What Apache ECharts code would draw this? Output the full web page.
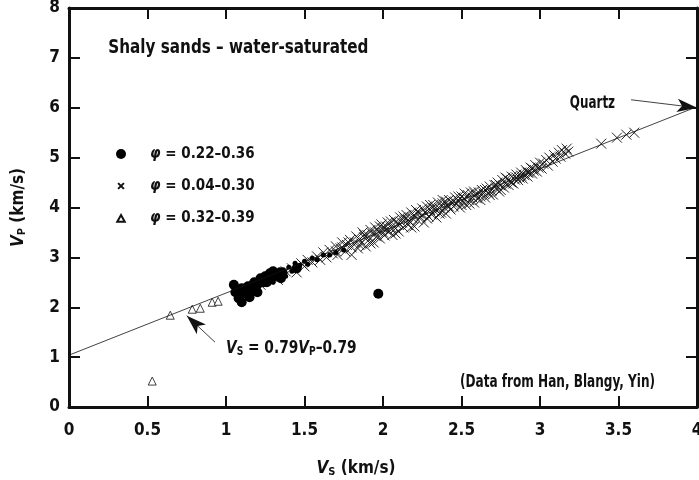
<!DOCTYPE html>
<html><head><meta charset="utf-8">
<script src="https://cdn.jsdelivr.net/npm/echarts@6/dist/echarts.min.js"></script>
<style>html,body{margin:0;padding:0;background:#fff}#c{width:699px;height:480px}</style>
</head><body><div id="c"></div>
<script>
// ---------- data ----------
const xTicks = [0, 4, 0.5];   // min, max, interval (Vs km/s)
const yTicks = [0, 8, 1];     // min, max, interval (Vp km/s)

const seriesNames = ['φ = 0.22–0.36', 'φ = 0.04–0.30', 'φ = 0.32–0.39'];

// φ = 0.22–0.36 (filled circles, large)
const circlesLarge = [
  [1.05,2.45],[1.06,2.30],[1.08,2.18],[1.10,2.10],[1.10,2.38],[1.12,2.28],[1.14,2.42],[1.15,2.20],
  [1.17,2.35],[1.18,2.50],[1.20,2.45],[1.20,2.30],[1.22,2.58],[1.23,2.52],[1.25,2.62],[1.26,2.50],
  [1.28,2.68],[1.28,2.56],[1.30,2.72],[1.31,2.62],[1.33,2.66],[1.35,2.58],[1.36,2.70],[1.45,2.78],
  [1.97,2.27]
];
// φ = 0.22–0.36 (filled circles, small)
const circlesSmall = [
  [1.12,2.36],[1.16,2.48],[1.24,2.45],[1.30,2.50],[1.34,2.75],[1.38,2.62],[1.40,2.80],[1.42,2.72],
  [1.44,2.88],[1.47,2.84],[1.50,2.92],[1.52,2.86],[1.55,2.98],[1.58,2.95],[1.62,3.05],[1.66,3.05],
  [1.70,3.10],[1.75,3.15]
];
// φ = 0.04–0.30 (crosses)
const crosses = [
  [1.22,2.45],[1.28,2.62],[1.33,2.55],[1.38,2.72],[1.42,2.78],[1.45,2.70],[1.48,2.88],[1.50,2.82],[1.52,2.95],[1.55,2.90],
  [1.58,3.02],[1.60,2.95],[1.62,3.10],[1.64,3.00],[1.66,3.15],[1.68,3.08],[1.70,3.22],[1.71,3.05],[1.73,3.18],[1.74,3.30],
  [1.76,3.12],[1.77,3.25],[1.79,3.35],[1.80,3.20],[1.80,3.05],
  [1.82,3.30],[1.83,3.42],[1.84,3.18],[1.85,3.36],[1.86,3.28],[1.87,3.50],[1.88,3.40],[1.89,3.22],[1.90,3.45],[1.91,3.35],
  [1.92,3.55],[1.93,3.48],[1.94,3.30],[1.95,3.60],[1.96,3.42],[1.97,3.52],[1.98,3.38],[1.99,3.66],[2.00,3.50],[2.00,3.58],
  [2.01,3.44],[2.02,3.62],[2.03,3.70],[2.04,3.52],[2.05,3.60],[2.06,3.45],[2.07,3.75],[2.08,3.58],[2.09,3.66],[2.10,3.52],
  [2.11,3.80],[2.12,3.70],[2.13,3.60],[2.14,3.76],[2.15,3.85],[2.16,3.65],[2.17,3.72],[2.18,3.90],[2.19,3.78],[2.20,3.62],[2.20,3.84],
  [2.21,3.95],[2.22,3.75],[2.23,3.88],[2.24,3.80],[2.25,3.98],[2.26,3.70],[2.27,3.90],[2.28,4.02],[2.29,3.82],[2.30,3.95],
  [2.31,3.86],[2.32,4.05],[2.33,3.92],[2.34,3.80],[2.35,4.10],[2.36,3.98],[2.37,3.90],[2.38,4.08],[2.39,4.00],[2.40,3.88],[2.40,4.12],
  [2.41,4.04],[2.42,4.15],[2.43,3.96],[2.44,4.10],[2.45,4.02],[2.46,4.20],[2.47,4.08],[2.48,4.14],[2.49,4.00],[2.50,4.22],
  [2.51,4.12],[2.52,4.18],[2.53,4.05],[2.54,4.25],[2.55,4.15],[2.56,4.30],[2.57,4.20],[2.58,4.10],[2.59,4.26],[2.60,4.18],
  [2.61,4.30],[2.62,4.22],[2.63,4.35],[2.64,4.28],[2.65,4.20],[2.66,4.38],[2.67,4.30],[2.68,4.42],[2.69,4.34],[2.70,4.26],
  [2.71,4.45],[2.72,4.38],[2.73,4.50],[2.74,4.32],[2.75,4.44],[2.76,4.55],[2.77,4.40],[2.78,4.48],[2.79,4.58],[2.80,4.45],
  [2.81,4.52],[2.82,4.62],[2.83,4.48],[2.84,4.56],[2.85,4.66],[2.86,4.55],[2.87,4.60],[2.88,4.70],[2.89,4.58],[2.90,4.65],
  [2.91,4.75],[2.92,4.62],[2.93,4.70],[2.94,4.80],[2.95,4.68],[2.96,4.74],[2.97,4.85],[2.98,4.72],[2.99,4.80],[3.00,4.90],
  [3.01,4.78],[3.02,4.88],[3.04,4.95],[3.05,4.84],[3.06,5.00],[3.08,4.92],[3.09,5.05],[3.10,4.98],[3.12,5.10],[3.13,5.02],
  [3.14,5.15],[3.16,5.08],[3.17,5.18],[3.18,5.12],
  [3.39,5.28],[3.49,5.40],[3.55,5.46],[3.60,5.50],
  [1.92,3.28],[1.95,3.50],[1.98,3.62],[2.02,3.55],[2.05,3.72],[2.08,3.48],[2.10,3.68],[2.13,3.82],[2.16,3.75],[2.18,3.60],
  [2.22,3.92],[2.25,3.85],[2.28,3.78],[2.30,4.05],[2.33,3.98],[2.36,3.88],[2.38,4.15],[2.42,4.02],[2.45,4.12],[2.48,4.22],
  [2.50,4.05],[2.52,4.28],[2.55,4.08],[2.58,4.32],[2.62,4.15],[2.65,4.35],[2.68,4.25],[2.72,4.45],[2.75,4.35],[2.78,4.60],
  [2.82,4.50],[2.85,4.60],[2.88,4.64],[2.92,4.70],[2.95,4.78],[1.70,3.12],[1.74,3.20],[1.78,3.30],[1.85,3.25],[1.88,3.45]
];
// φ = 0.32–0.39 (open triangles)
const triangles = [
  [0.53,0.52],[0.645,1.84],[0.785,1.96],[0.836,1.98],[0.912,2.10],[0.95,2.12]
];
// fitted line Vs = 0.79 Vp − 0.79 (end points across the frame)
const fitLine = [[0, 1.04], [4, 6.02]];

// annotations (text, anchor in data coordinates)
const titleText = 'Shaly sands – water-saturated';
const titleAt = [0.25, 7.2];
const quartzText = 'Quartz';
const quartzAt = [3.19, 6.08];
const quartzArrow = [[3.58, 6.16], [4.0, 6.0]];
const eqAt = [1.0, 1.18];
const eqArrow = [[0.93, 1.30], [0.75, 1.83]];
const srcText = '(Data from Han, Blangy, Yin)';
const srcAt = [2.49, 0.48];

// ---------- chart ----------
const FONT = "DejaVu Sans Condensed";
const crossPath = 'path://M0,0L10,10M10,0L0,10';
const crossIcon = 'path://M0,0M12,12M2.5,2.5L9.5,9.5M9.5,2.5L2.5,9.5';
const triIcon = 'path://M0,0M12,12M6,2.5L10.5,10.5L1.5,10.5Z';

const rich = {
  v: {fontFamily: FONT, fontWeight: 'bold', fontStyle: 'italic', fontSize: 17, color: '#111'},
  s: {fontFamily: FONT, fontWeight: 'bold', fontSize: 11, color: '#111', padding: [7, 0, 0, 0]},
  n: {fontFamily: FONT, fontWeight: 'bold', fontSize: 17, color: '#111'},
  p: {fontFamily: FONT, fontWeight: 'bold', fontStyle: 'italic', fontSize: 15, color: '#111'},
  t: {fontFamily: FONT, fontWeight: 'bold', fontSize: 15, color: '#111'}
};
const grich = {
  v: {fontFamily: FONT, fontWeight: 'bold', fontStyle: 'italic', fontSize: 18, fill: '#111'},
  s: {fontFamily: FONT, fontWeight: 'bold', fontSize: 12, fill: '#111', padding: [8, 0, 0, 0]},
  n: {fontFamily: FONT, fontWeight: 'bold', fontSize: 18, fill: '#111'}
};

const axisCommon = {
  axisLine: {show: true, onZero: false, lineStyle: {color: '#111', width: 3}},
  axisTick: {show: true, inside: true, length: 11, lineStyle: {color: '#111', width: 2}},
  splitLine: {show: false}
};

const chart = echarts.init(document.getElementById('c'), null, {renderer: 'canvas'});
chart.setOption({
  animation: false,
  backgroundColor: '#fff',
  grid: {left: 69, right: 2, top: 8, bottom: 73, containLabel: false, outerBoundsMode: 'none'},
  legend: {
    orient: 'vertical', left: 110, top: 139,
    itemWidth: 48, itemHeight: 10, itemGap: 12,
    selectedMode: false,
    textStyle: {fontFamily: FONT, fontSize: 15, fontWeight: 'bold', lineHeight: 20, rich: rich},
    formatter: n => '{p|φ}{t|' + n.slice(1) + '}',
    data: [
      {name: seriesNames[0], icon: 'circle'},
      {name: seriesNames[1], icon: crossIcon},
      {name: seriesNames[2], icon: triIcon}
    ]
  },
  xAxis: [
    Object.assign({}, axisCommon, {
      type: 'value', min: xTicks[0], max: xTicks[1], interval: xTicks[2], position: 'bottom',
      name: '{v|V}{s|S}{n| (km/s)}', nameLocation: 'middle', nameGap: 53,
      nameTextStyle: {rich: rich, padding: [0, 54, 0, 0]},
      axisLabel: {margin: 15, color: '#111', fontFamily: FONT, fontWeight: 'bold', fontSize: 17}
    }),
    Object.assign({}, axisCommon, {
      type: 'value', min: xTicks[0], max: xTicks[1], interval: xTicks[2], position: 'top',
      axisLabel: {show: false}
    })
  ],
  yAxis: [
    Object.assign({}, axisCommon, {
      type: 'value', min: yTicks[0], max: yTicks[1], interval: yTicks[2], position: 'left',
      name: '{v|V}{s|P}{n| (km/s)}', nameLocation: 'middle', nameGap: 41,
      nameTextStyle: {rich: rich},
      axisLabel: {margin: 9, color: '#111', fontFamily: FONT, fontWeight: 'bold', fontSize: 17}
    }),
    Object.assign({}, axisCommon, {
      type: 'value', min: yTicks[0], max: yTicks[1], interval: yTicks[2], position: 'right',
      axisLabel: {show: false}
    })
  ],
  series: [
    {
      type: 'line', data: fitLine, symbol: 'none', silent: true, clip: false,
      lineStyle: {color: '#111', width: 0.8},
      markLine: {
        silent: true, symbol: ['none', 'arrow'], symbolSize: [10, 20],
        lineStyle: {color: '#111', width: 0.8, type: 'solid'},
        label: {show: false},
        data: [
          [{coord: quartzArrow[0]}, {coord: quartzArrow[1]}],
          [{coord: eqArrow[0]}, {coord: eqArrow[1]}]
        ]
      }
    },
    {
      name: seriesNames[1], type: 'scatter', data: crosses, symbol: crossPath, symbolSize: 10,
      itemStyle: {color: 'rgba(0,0,0,0)', borderColor: '#111', borderWidth: 0.9, opacity: 1}
    },
    {
      name: seriesNames[0], type: 'scatter', data: circlesLarge, symbol: 'circle', symbolSize: 10,
      itemStyle: {color: '#000', opacity: 1}
    },
    {
      name: seriesNames[0], type: 'scatter', data: circlesSmall, symbol: 'circle', symbolSize: 5,
      itemStyle: {color: '#000', opacity: 1}
    },
    {
      name: seriesNames[2], type: 'scatter', data: triangles, symbol: 'triangle', symbolSize: 8,
      itemStyle: {color: '#fff', borderColor: '#111', borderWidth: 0.8, opacity: 1}
    }
  ]
});

const px = p => chart.convertToPixel({xAxisIndex: 0, yAxisIndex: 0}, p);
const txt = (at, text, size, sx, extra) => {
  const p = px(at);
  return {
    type: 'text', x: p[0], y: p[1], scaleX: sx, silent: true,
    style: Object.assign({
      text: text, fill: '#111', font: 'bold ' + size + 'px "' + FONT + '"',
      align: 'left', verticalAlign: 'middle'
    }, extra || {})
  };
};
chart.setOption({
  graphic: [
    txt(titleAt, titleText, 19, 0.89),
    txt(quartzAt, quartzText, 17, 0.78),
    txt(srcAt, srcText, 17, 0.79),
    txt(eqAt, '{v|V}{s|S}{n| = 0.79}{v|V}{s|P}{n|–0.79}', 18, 0.85, {rich: grich})
  ]
});
</script></body></html>
